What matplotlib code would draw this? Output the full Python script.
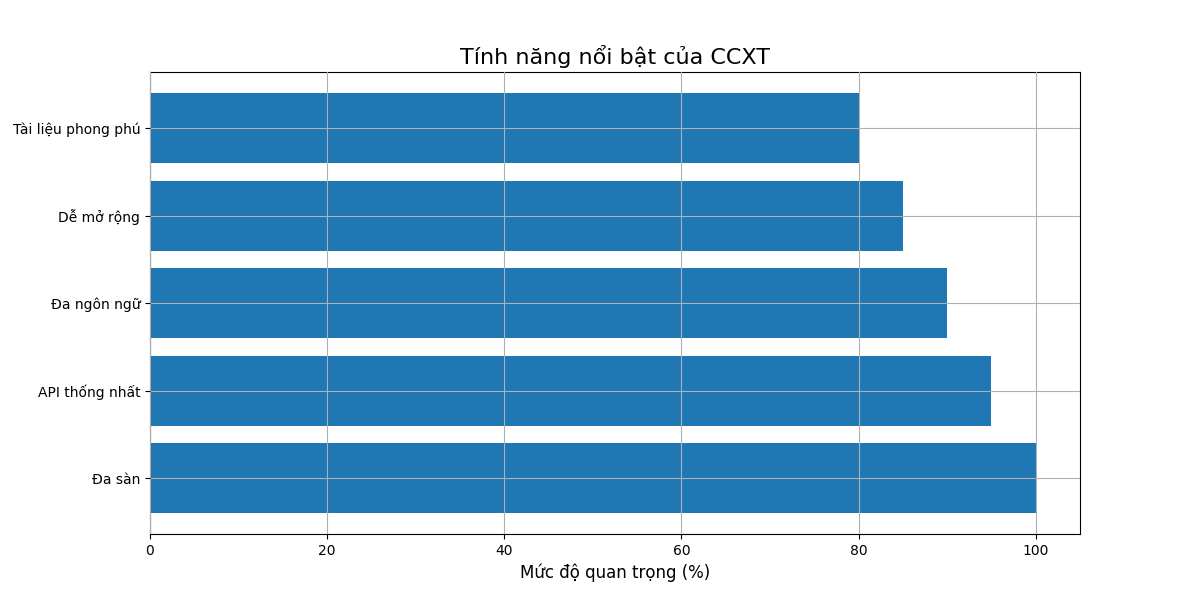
import matplotlib
matplotlib.use("Agg")
import matplotlib.pyplot as plt

features = ["Đa sàn", "API thống nhất", "Đa ngôn ngữ", "Dễ mở rộng", "Tài liệu phong phú"]
values = [100, 95, 90, 85, 80]

fig, ax = plt.subplots(figsize=(12, 6), dpi=100)
ax.barh(features, values, color="#1f77b4")
ax.set_xlim(0, 105)
ax.set_axisbelow(False)
ax.grid(True)
ax.set_title("Tính năng nổi bật của CCXT", fontsize=16)
ax.set_xlabel("Mức độ quan trọng (%)", fontsize=12)
fig.savefig("out.png")
